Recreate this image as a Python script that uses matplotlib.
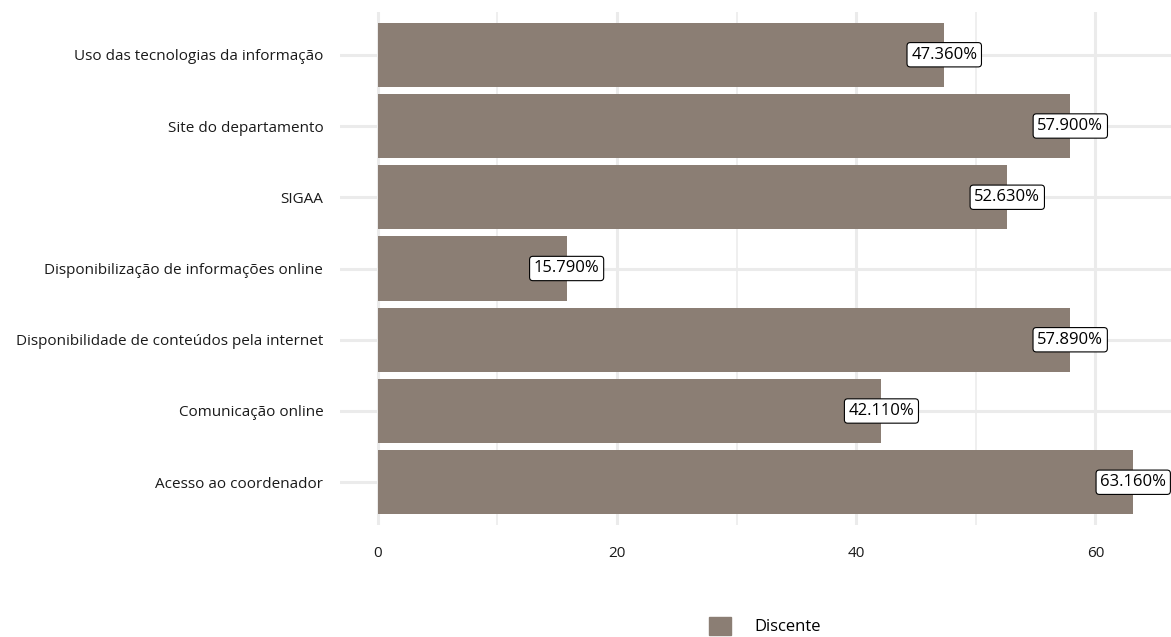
import numpy as np
import matplotlib.pyplot as plt
from matplotlib.patches import Patch

categorias = [
    "Acesso ao coordenador",
    "Comunicação online",
    "Disponibilidade de conteúdos pela internet",
    "Disponibilização de informações online",
    "SIGAA",
    "Site do departamento",
    "Uso das tecnologias da informação",
]
valores = [63.16, 42.11, 57.89, 15.79, 52.63, 57.90, 47.36]
serie = "Discente"
cor = "#8B7E74"

plt.rcParams["font.family"] = ["Open Sans", "DejaVu Sans"]

fig = plt.figure(figsize=(11.71, 6.37), dpi=100)
ax = fig.add_axes([340 / 1171, 1 - 525 / 637, (1171 - 340) / 1171, (525 - 12) / 637])

y = np.arange(len(categorias))
ax.barh(y, valores, height=0.9, color=cor, zorder=2)

for yi, v in zip(y, valores):
    ax.text(v, yi, f"{v:.3f}%", ha="center", va="center", fontsize=12, zorder=4,
            bbox=dict(boxstyle="round,pad=0.25,rounding_size=0.2", fc="white", ec="black", lw=0.8))

vmax = max(valores)
ax.set_xlim(-0.05 * vmax, vmax * 1.05)
ax.set_ylim(-0.6, len(categorias) - 0.4)
ax.set_yticks(y)
ax.set_yticklabels(categorias, fontsize=11, color="#1a1a1a")
ax.set_xticks([0, 20, 40, 60])
ax.set_xticks([10, 30, 50], minor=True)
ax.tick_params(axis="x", which="both", length=0, pad=15, labelsize=11, labelcolor="#1a1a1a")
ax.tick_params(axis="y", length=0, pad=12)

ax.grid(axis="x", which="major", color="#EBEBEB", lw=2.2, zorder=0)
ax.grid(axis="x", which="minor", color="#EBEBEB", lw=1.1, zorder=0)
ax.grid(axis="y", which="major", color="#EBEBEB", lw=2.2, zorder=0)
for s in ax.spines.values():
    s.set_visible(False)

fig.legend(handles=[Patch(color=cor, label=serie)], loc="center", bbox_to_anchor=(765 / 1171, 1 - 626 / 637),
           frameon=False, fontsize=12, handlelength=1.3, handleheight=1.3, handletextpad=1.4)

fig.savefig("out.png", dpi=100)
